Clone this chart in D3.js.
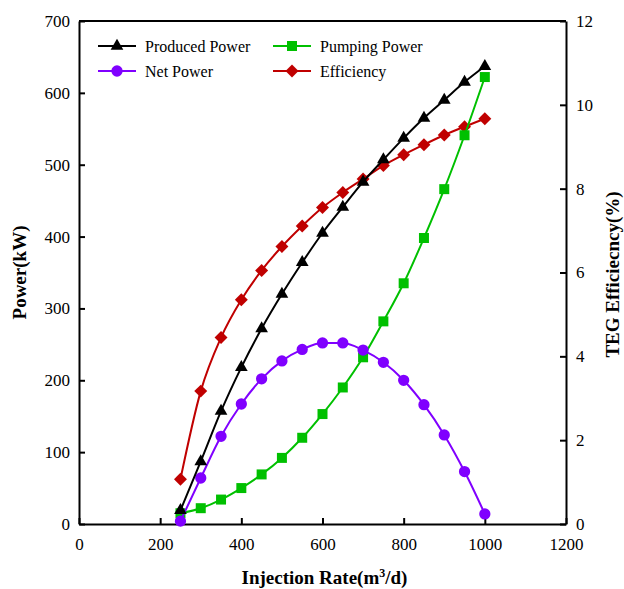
<!DOCTYPE html>
<html>
<head>
<script src="https://d3js.org/d3.v7.min.js"></script>
<style>
  body { margin: 0; background: #fff; }
  .axis text { font-size: 17px; fill: #000; }
  .axis path, .axis line { stroke: #000; stroke-width: 2px; }
  .title { font-size: 19px; font-weight: bold; }
  .legend text { font-size: 16px; }
</style>
</head>
<body>
<script>
// data
var rates = [250, 300, 350, 400, 450, 500, 550, 600, 650, 700, 750, 800, 850, 900, 950, 1000];
var produced = [19, 87, 157, 218, 272, 320, 364, 405, 441, 476, 507, 537, 565, 590, 615, 637];
var pumping = [15, 22, 34, 50, 69, 92, 120, 153, 190, 232, 282, 335, 398, 466, 541, 622];
var netPower = [4, 64, 122, 167, 202, 227, 243, 252, 252, 242, 225, 200, 166, 124, 73, 14];
var efficiency = [1.07, 3.17, 4.45, 5.35, 6.05, 6.62, 7.11, 7.55, 7.91, 8.23, 8.55, 8.81, 9.05, 9.28, 9.48, 9.67];
var xTicks = [0, 200, 400, 600, 800, 1000, 1200];
var yTicks = [0, 100, 200, 300, 400, 500, 600, 700];
var y2Ticks = [0, 2, 4, 6, 8, 10, 12];

var FONT = "'Liberation Serif', 'DejaVu Serif', serif";

var W = 624, H = 589;
var margin = {top: 21, right: 58, bottom: 65, left: 79};
var width = W - margin.left - margin.right,
    height = H - margin.top - margin.bottom;

var svg = d3.select("body").append("svg")
    .attr("width", W).attr("height", H)
  .append("g")
    .attr("transform", "translate(" + margin.left + "," + margin.top + ")");

var x = d3.scaleLinear().domain([0, 1200]).range([0, width]);
var y = d3.scaleLinear().domain([0, 700]).range([height, 0]);
var y2 = d3.scaleLinear().domain([0, 12]).range([height, 0]);

// frame top
svg.append("line")
    .attr("x1", 0).attr("x2", width).attr("y1", 0).attr("y2", 0)
    .attr("stroke", "#000").attr("stroke-width", 2);

svg.append("g").attr("class", "axis")
    .attr("transform", "translate(0," + height + ")")
    .call(d3.axisBottom(x).tickValues(xTicks).tickFormat(d3.format("d"))
      .tickSize(-6).tickSizeOuter(0).tickPadding(14));
svg.append("g").attr("class", "axis")
    .call(d3.axisLeft(y).tickValues(yTicks).tickFormat(d3.format("d"))
      .tickSize(-6).tickSizeOuter(0).tickPadding(9));
svg.append("g").attr("class", "axis")
    .attr("transform", "translate(" + width + ",0)")
    .call(d3.axisRight(y2).tickValues(y2Ticks).tickFormat(d3.format("d"))
      .tickSize(-6).tickSizeOuter(0).tickPadding(10));

svg.append("text").attr("class", "title")
    .attr("x", width / 2 + 2).attr("y", height + 60)
    .attr("text-anchor", "middle")
    .html("Injection Rate(m<tspan dy='-7' font-size='12'>3</tspan><tspan dy='7'>/d)</tspan>");

svg.append("text").attr("class", "title")
    .attr("transform", "translate(" + (-53) + "," + (height / 2) + ")rotate(-90)")
    .attr("text-anchor", "middle")
    .text("Power(kW)");

svg.append("text").attr("class", "title")
    .attr("transform", "translate(" + (width + 53) + "," + (height / 2 + 2) + ")rotate(-90)")
    .attr("text-anchor", "middle")
    .text("TEG Efficiecncy(%)");

var series = [
  {name: "Produced Power", vals: produced, scale: y, color: "#000000", sym: d3.symbolTriangle, size: 70, rot: 0},
  {name: "Pumping Power", vals: pumping, scale: y, color: "#00c000", sym: d3.symbolSquare, size: 100, rot: 0},
  {name: "Net Power", vals: netPower, scale: y, color: "#8000ff", sym: d3.symbolCircle, size: 100, rot: 0},
  {name: "Efficiency", vals: efficiency, scale: y2, color: "#c00000", sym: d3.symbolSquare, size: 84, rot: 45}
];

// draw efficiency first, then others on top in order
var order = [3, 1, 2, 0];
order.forEach(function(i) {
  var s = series[i];
  var line = d3.line()
      .x(function(d, j) { return x(rates[j]); })
      .y(function(d) { return s.scale(d); })
      .curve(d3.curveMonotoneX);
  svg.append("path").datum(s.vals)
      .attr("fill", "none").attr("stroke", s.color).attr("stroke-width", 2)
      .attr("d", line);
  svg.selectAll(null).data(s.vals).enter().append("path")
      .attr("d", d3.symbol().type(s.sym).size(s.size))
      .attr("fill", s.color)
      .attr("transform", function(d, j) {
        return "translate(" + x(rates[j]) + "," + s.scale(d) + ")rotate(" + s.rot + ")";
      });
});

// legend
var legPos = [[19, 25], [194, 25], [19, 50], [194, 50]];
var leg = svg.append("g").attr("class", "legend");
[0, 1, 2, 3].forEach(function(i) {
  var s = series[i], p = legPos[i];
  var g = leg.append("g").attr("transform", "translate(" + p[0] + "," + p[1] + ")");
  g.append("line").attr("x1", 0).attr("x2", 38).attr("y1", 0).attr("y2", 0)
      .attr("stroke", s.color).attr("stroke-width", 2);
  g.append("path").attr("d", d3.symbol().type(s.sym).size(s.size))
      .attr("fill", s.color)
      .attr("transform", "translate(19,0)rotate(" + s.rot + ")");
  g.append("text").attr("x", 47).attr("y", 5.5).text(s.name);
});

// font on every text node
d3.selectAll("svg g.axis").attr("font-family", null);
d3.selectAll("svg text").style("font-family", FONT);
</script>
</body>
</html>
